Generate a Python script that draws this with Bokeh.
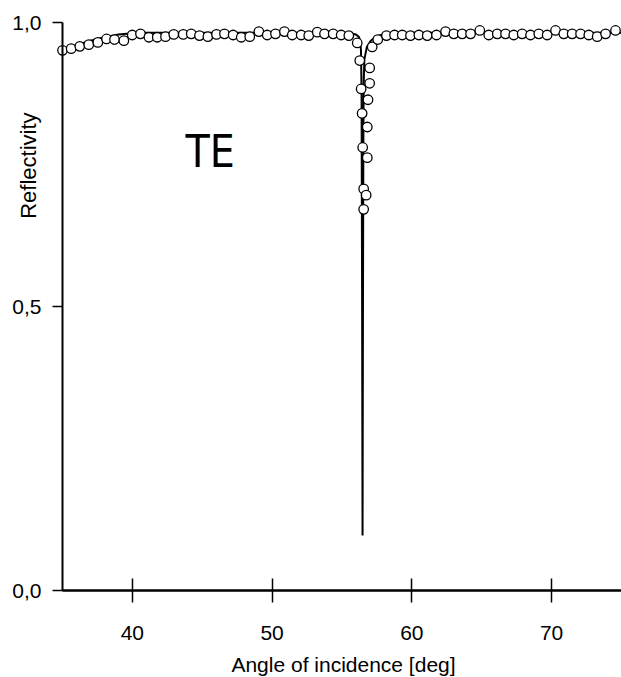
import numpy as np
from bokeh.plotting import figure
from bokeh.models import Range1d, FixedTicker, Label, LinearAxis
from bokeh.embed import file_html
from bokeh.resources import INLINE

# measured reflectivity (open circles)
meas_angle = [35.0, 35.62, 36.24, 36.88, 37.53, 38.15, 38.72, 39.39, 39.99, 40.58,
              41.18, 41.78, 42.37, 42.96, 43.64, 44.21, 44.80, 45.40, 46.02, 46.59,
              47.21, 47.79, 48.40, 49.05, 49.65, 50.24, 50.88, 51.44, 52.08, 52.62,
              53.23, 53.75, 54.37, 54.94, 55.49, 56.09,
              56.27, 56.37, 56.44, 56.48, 56.55, 56.55,
              56.73, 56.81, 56.81, 56.86, 56.98, 56.98,
              57.16, 57.56, 58.18, 58.76, 59.31, 59.90, 60.50, 61.10, 61.76, 62.41,
              63.00, 63.60, 64.20, 64.86, 65.50, 66.11, 66.70, 67.29, 67.89, 68.49,
              69.08, 69.68, 70.28, 70.87, 71.47, 72.07, 72.66, 73.26, 73.86, 74.57]
meas_refl = [0.951, 0.954, 0.958, 0.961, 0.965, 0.971, 0.970, 0.968, 0.978, 0.980,
             0.974, 0.974, 0.975, 0.979, 0.979, 0.980, 0.977, 0.975, 0.979, 0.980,
             0.978, 0.974, 0.975, 0.984, 0.978, 0.980, 0.984, 0.978, 0.978, 0.977,
             0.983, 0.980, 0.980, 0.978, 0.977, 0.964,
             0.933, 0.883, 0.840, 0.780, 0.707, 0.671,
             0.696, 0.762, 0.816, 0.864, 0.893, 0.920,
             0.957, 0.970, 0.977, 0.978, 0.978, 0.977, 0.978, 0.977, 0.978, 0.984,
             0.980, 0.980, 0.980, 0.986, 0.978, 0.980, 0.980, 0.978, 0.980, 0.978,
             0.980, 0.978, 0.986, 0.980, 0.980, 0.980, 0.978, 0.975, 0.980, 0.986]

# calculated reflectivity (solid line)
calc_angle = [35.0, 35.5, 36.0, 37.0, 38.0, 39.0, 40.0, 41.0, 45.0, 50.0, 54.0,
              55.5, 56.0, 56.2, 56.3, 56.36, 56.40, 56.44, 56.47, 56.50, 56.53,
              56.56, 56.60, 56.78, 57.06, 57.42, 57.90, 58.70, 60.0, 65.0, 70.0, 75.0]
calc_refl = [0.950, 0.955, 0.960, 0.968, 0.974, 0.979, 0.981, 0.982, 0.982, 0.982, 0.982,
             0.981, 0.979, 0.975, 0.968, 0.950, 0.880, 0.500, 0.097, 0.500, 0.800,
             0.900, 0.935, 0.957, 0.968, 0.975, 0.979, 0.981, 0.982, 0.982, 0.982, 0.982]

x_ticks = [40, 50, 60, 70]
y_ticks = [0.0, 0.5, 1.0]
y_tick_labels = {0.0: "0,0", 0.5: "0,5", 1.0: "1,0"}
x_title = "Angle of incidence [deg]"
y_title = "Reflectivity"

# data extent and where it sits on the 621x677 canvas
X_MIN, X_MAX = 35.0, 75.0
Y_MIN, Y_MAX = 0.0, 1.0
W, H = 621, 677
AX_LEFT, AX_TOP, AX_BOTTOM = 62, 22, 590
px_x = (W - AX_LEFT) / (X_MAX - X_MIN)
px_y = (AX_BOTTOM - AX_TOP) / (Y_MAX - Y_MIN)
xr = Range1d(X_MIN - AX_LEFT / px_x, X_MAX)
yr = Range1d(Y_MIN - (H - AX_BOTTOM) / px_y, Y_MAX + AX_TOP / px_y)

p = figure(frame_width=W, frame_height=H, x_range=xr, y_range=yr,
           output_backend="svg", toolbar_location=None,
           min_border_left=0, min_border_right=0, min_border_top=0, min_border_bottom=0)
p.outline_line_color = None
p.grid.visible = False
p.background_fill_color = "white"
p.border_fill_color = "white"

p.line(calc_angle, calc_refl, line_color="black", line_width=2)
p.scatter(meas_angle, meas_refl, marker="circle", size=9.5, fill_color="white",
          line_color="black", line_width=1.3)

# top border line at R = 1
top = LinearAxis(fixed_location=Y_MAX, bounds=(X_MIN, X_MAX), ticker=FixedTicker(ticks=[]),
                 axis_line_width=1.5, axis_line_color="black",
                 major_tick_line_color=None, minor_tick_line_color=None,
                 major_label_text_color=None)
p.add_layout(top, "above")

p.xaxis.ticker = FixedTicker(ticks=x_ticks)
p.yaxis.ticker = FixedTicker(ticks=y_ticks)
p.yaxis.major_label_overrides = y_tick_labels
p.yaxis.fixed_location = X_MIN
p.yaxis.bounds = (Y_MIN, Y_MAX)
p.xaxis.fixed_location = Y_MIN
p.xaxis.bounds = (X_MIN, X_MAX)
for ax in (p.xaxis, p.yaxis):
    ax.axis_line_width = 2
    ax.axis_line_color = "black"
    ax.major_tick_line_width = 1.5
    ax.major_tick_line_color = "black"
    ax.major_tick_in = 0
    ax.minor_tick_line_color = None
    ax.major_label_text_font = "Liberation Sans"
    ax.major_label_text_font_size = "21px"
    ax.major_label_text_color = "black"
top.major_label_text_color = None
p.xaxis.major_tick_out = 12
p.xaxis.major_label_standoff = 23
p.yaxis.major_tick_out = 10
p.yaxis.major_label_standoff = 11

p.add_layout(Label(x=X_MIN + (343 - AX_LEFT) / px_x, y=Y_MIN - (664 - AX_BOTTOM) / px_y,
                   text=x_title, text_align="center", text_baseline="middle",
                   text_font="Liberation Sans", text_font_size="21px", text_color="black"))
p.add_layout(Label(x=X_MIN + (27.5 - AX_LEFT) / px_x, y=0.748, text=y_title, angle=np.pi / 2,
                   text_align="center", text_baseline="middle",
                   text_font="Liberation Sans", text_font_size="22px", text_color="black"))
p.add_layout(Label(x=43.8, y=0.773, text="TE", text_align="left", text_baseline="alphabetic",
                   text_font="DejaVu Sans Condensed, Liberation Sans", text_font_size="44px",
                   text_color="black"))

open("out.html", "w").write(file_html(p, INLINE))
